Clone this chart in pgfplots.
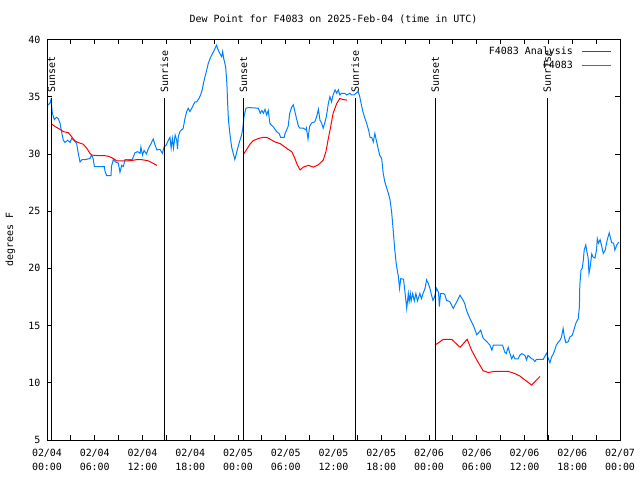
\documentclass[border=0pt]{standalone}
\usepackage{pgfplots}
\pgfplotsset{compat=1.18}
\usepackage{fontspec}
\setmainfont{DejaVu Sans Mono}
\definecolor{bl}{RGB}{0,128,255}
\newcommand\gf{\fontsize{10}{14}\selectfont}
\begin{document}
\gf
\begin{tikzpicture}
\useasboundingbox (0,0) rectangle (640bp,480bp);
\begin{axis}[
 at={(47bp,40bp)}, anchor=south west, scale only axis,
 width=573bp, height=400.5bp,
 xmin=0, xmax=72, ymin=5, ymax=40,
 xtick={0,6,...,72}, minor xtick={3,9,...,69},
 xticklabels={{02/04\\00:00},{02/04\\06:00},{02/04\\12:00},{02/04\\18:00},{02/05\\00:00},{02/05\\06:00},{02/05\\12:00},{02/05\\18:00},{02/06\\00:00},{02/06\\06:00},{02/06\\12:00},{02/06\\18:00},{02/07\\00:00}},
 xticklabel style={align=center, font=\gf, yshift=-6bp},
 yticklabel style={font=\gf, xshift=-3bp},
 ytick={5,10,...,40},
 tick align=inside, major tick length=5bp, minor tick length=5bp,
 tick style={black, line width=0.8bp},
 axis line style={line width=1bp},
 /pgf/number format/assume math mode=true,
 ylabel={degrees F},
 ylabel style={font=\gf, at={(axis description cs:-0.064,0.5)}, anchor=center},
 title={Dew Point for F4083 on 2025-Feb-04 (time in UTC)},
 title style={font=\gf, at={(axis description cs:0.5,1)}, anchor=center, yshift=14bp},
 unbounded coords=jump,
 legend style={draw=none, fill=none, at={(axis description cs:0.988,0.99)}, anchor=north east, font=\gf, inner sep=1bp, row sep=1bp},
 legend cell align=right,
 legend plot pos=right,
 legend image code/.code={\path (0bp,0bp); \draw[#1] (7bp,0bp) -- (36bp,0bp);},
 reverse legend,
]
\addplot[bl, line width=1bp] coordinates {
(0.16,34.27)(0.4,34.5)(0.5,34.75)(0.67,33.55)(0.92,33.0)(1.2,33.2)(1.4,33.1)(1.63,32.7)(1.84,31.9)(2.05,31.2)(2.26,31.0)(2.6,31.2)(2.9,31.0)(3.1,31.35)(3.43,31.15)(3.73,30.9)(3.93,30.05)(4.15,29.3)(4.4,29.5)(4.77,29.5)(5.4,29.6)(5.6,29.9)(5.8,29.6)(5.95,28.9)(6.66,28.9)(7.2,28.9)(7.3,28.45)(7.5,28.1)(8.04,28.1)(8.1,28.9)(8.33,29.5)(8.6,29.3)(8.96,29.2)(9.17,28.4)(9.38,29.0)(9.6,28.9)(9.8,29.5)(10.7,29.5)(10.85,29.75)(11.05,30.1)(11.4,30.2)(11.7,30.05)(11.8,30.6)(12.0,29.9)(12.2,30.3)(12.5,30.0)(12.7,30.4)(13.07,30.9)(13.35,31.3)(13.57,30.8)(13.8,30.35)(14.2,30.4)(14.5,30.05)(14.7,30.6)(15.0,30.8)(15.25,31.2)(15.45,31.45)(15.6,30.5)(15.75,31.35)(15.9,30.5)(16.1,31.65)(16.3,31.2)(16.4,30.45)(16.5,31.5)(16.7,31.95)(16.9,32.1)(17.1,32.2)(17.34,33.1)(17.55,33.7)(17.75,34.0)(17.96,33.7)(18.2,34.0)(18.4,34.3)(18.6,34.55)(18.8,34.55)(19.1,34.85)(19.3,35.15)(19.5,35.6)(19.7,36.3)(19.85,36.75)(20.06,37.3)(20.26,37.9)(20.5,38.35)(20.7,38.65)(20.9,38.9)(21.1,39.2)(21.3,39.5)(21.5,39.1)(21.7,38.8)(21.95,38.5)(22.07,38.95)(22.2,38.35)(22.45,37.6)(22.6,36.2)(22.7,34.4)(22.8,32.95)(23.0,31.65)(23.2,30.6)(23.4,30.05)(23.6,29.5)(23.8,30.05)(24.0,30.6)(24.25,31.2)(24.45,31.65)(24.6,32.2)(24.75,33.25)(25.0,34.0)(25.3,34.05)(26.55,34.0)(26.8,33.55)(27.0,33.8)(27.2,33.55)(27.4,33.9)(27.6,33.4)(27.8,33.8)(28.0,32.7)(28.2,32.5)(28.4,32.4)(28.85,31.95)(29.2,31.75)(29.35,31.45)(29.8,31.45)(29.9,31.75)(30.3,32.4)(30.5,33.55)(30.75,34.1)(30.95,34.3)(31.15,33.7)(31.4,32.95)(31.6,32.4)(31.8,32.25)(32.2,32.25)(32.55,32.1)(32.6,32.25)(32.8,31.3)(33.0,32.4)(33.25,32.7)(33.65,32.8)(33.9,33.3)(34.1,33.9)(34.3,32.95)(34.5,32.7)(34.7,32.25)(34.9,32.7)(35.1,33.25)(35.35,34.4)(35.55,35.0)(35.75,34.55)(35.95,35.15)(36.2,35.6)(36.4,35.3)(36.6,35.6)(36.8,35.15)(37.0,35.3)(37.4,35.3)(37.65,35.15)(38.05,35.3)(38.3,35.15)(38.57,35.15)(38.9,35.35)(39.1,35.45)(39.3,35.0)(39.5,34.3)(39.75,33.55)(39.95,33.1)(40.15,32.7)(40.4,32.1)(40.6,31.45)(40.8,31.45)(41.0,31.05)(41.2,31.8)(41.33,31.35)(41.6,30.5)(41.8,29.9)(42.05,29.6)(42.25,28.3)(42.45,27.55)(42.65,27.1)(42.9,26.55)(43.1,26.0)(43.3,24.95)(43.5,23.35)(43.7,21.6)(43.9,20.3)(44.15,19.3)(44.3,18.25)(44.45,19.1)(44.8,19.05)(45.0,17.8)(45.2,16.5)(45.4,17.8)(45.5,17.1)(45.65,17.8)(45.75,17.15)(45.95,17.8)(46.15,17.15)(46.35,17.8)(46.55,17.15)(46.85,17.8)(47.05,17.35)(47.25,17.8)(47.5,18.25)(47.7,19.0)(47.9,18.7)(48.1,18.3)(48.3,17.7)(48.5,17.2)(48.7,17.5)(48.95,18.25)(49.2,17.9)(49.3,16.65)(49.45,17.8)(49.8,17.8)(50.0,17.7)(50.2,17.2)(50.6,17.1)(51.05,16.5)(51.5,17.1)(51.9,17.65)(52.3,17.2)(52.5,16.9)(52.7,16.35)(53.15,15.6)(53.55,15.05)(53.8,14.6)(54.0,14.2)(54.2,14.35)(54.5,14.6)(54.8,13.9)(55.25,13.6)(55.65,13.3)(55.9,12.85)(56.1,13.3)(56.5,13.3)(57.25,13.3)(57.5,12.7)(57.7,12.55)(57.95,13.1)(58.15,12.6)(58.4,12.1)(58.6,12.4)(58.8,12.1)(59.2,12.1)(59.4,12.4)(59.65,12.55)(60.05,12.4)(60.25,12.0)(60.45,12.4)(60.9,12.1)(61.1,12.05)(61.3,11.85)(61.5,12.05)(62.35,12.05)(62.55,12.3)(62.8,12.6)(63.0,12.1)(63.2,11.75)(63.4,12.25)(63.6,12.5)(63.8,12.85)(64.0,13.3)(64.25,13.55)(64.45,13.7)(64.65,14.0)(64.85,14.75)(65.0,14.05)(65.2,13.5)(65.5,13.6)(65.7,14.0)(66.0,14.15)(66.2,14.6)(66.45,15.2)(66.75,15.6)(66.9,16.65)(66.95,18.55)(67.1,19.85)(67.25,20.0)(67.4,20.75)(67.5,21.6)(67.7,22.05)(67.8,21.6)(68.0,20.9)(68.1,19.55)(68.25,20.1)(68.45,21.25)(68.6,21.0)(68.85,20.9)(69.05,21.6)(69.15,22.6)(69.3,22.2)(69.5,22.5)(69.7,21.95)(69.9,21.3)(70.15,21.6)(70.3,22.2)(70.5,22.75)(70.65,23.1)(70.95,22.25)(71.2,22.2)(71.35,21.6)(71.6,22.05)(71.85,22.3)
};
\addlegendentry{F4083}
\addplot[red, line width=1bp] coordinates {
(0.6,32.6)(1.0,32.4)(1.63,32.15)(2.05,31.95)(2.7,31.85)(3.1,31.5)(3.5,31.15)(3.9,31.0)(4.55,30.85)(5.0,30.5)(5.4,30.05)(5.6,29.9)(6.45,29.85)(7.2,29.85)(7.7,29.8)(8.33,29.6)(8.75,29.4)(10.2,29.4)(10.85,29.45)(11.25,29.5)(11.9,29.5)(12.3,29.45)(12.7,29.4)(13.15,29.25)(13.8,29.0)
(14,nan)
(24.66,29.95)(25.1,30.4)(25.5,30.85)(25.9,31.15)(26.55,31.35)(27.2,31.45)(27.6,31.45)(28.0,31.3)(28.65,31.05)(29.3,30.9)(29.9,30.6)(30.3,30.4)(30.75,30.2)(31.15,29.6)(31.45,29.05)(31.8,28.6)(32.2,28.85)(32.85,29.0)(33.45,28.85)(34.1,29.05)(34.7,29.45)(35.05,30.2)(35.35,31.35)(35.65,32.4)(35.95,33.55)(36.4,34.4)(36.8,34.85)(37.2,34.75)(37.7,34.7)
(40,nan)
(48.75,13.3)(49.2,13.5)(49.8,13.8)(50.85,13.8)(51.9,13.1)(52.8,13.8)(53.35,12.85)(54.0,12.0)(54.8,11.05)(55.45,10.9)(56.3,11.0)(57.95,11.0)(58.8,10.8)(59.4,10.6)(60.05,10.25)(60.9,9.8)(61.45,10.2)(61.95,10.55)
};
\addlegendentry{F4083 Analysis}
\foreach \t/\l in {0.55/Sunset,14.74/Sunrise,24.68/Sunset,38.72/Sunrise,48.78/Sunset,62.84/Sunrise}{
 \edef\tmp{\noexpand\draw[black, line width=1bp] (axis cs:\t,5) -- (axis cs:\t,34.9);
 \noexpand\node[rotate=90, anchor=west, inner sep=1bp, font=\noexpand\gf] at (axis cs:\t,35.3) {\l};}
 \tmp
}
\end{axis}
\end{tikzpicture}
\end{document}
